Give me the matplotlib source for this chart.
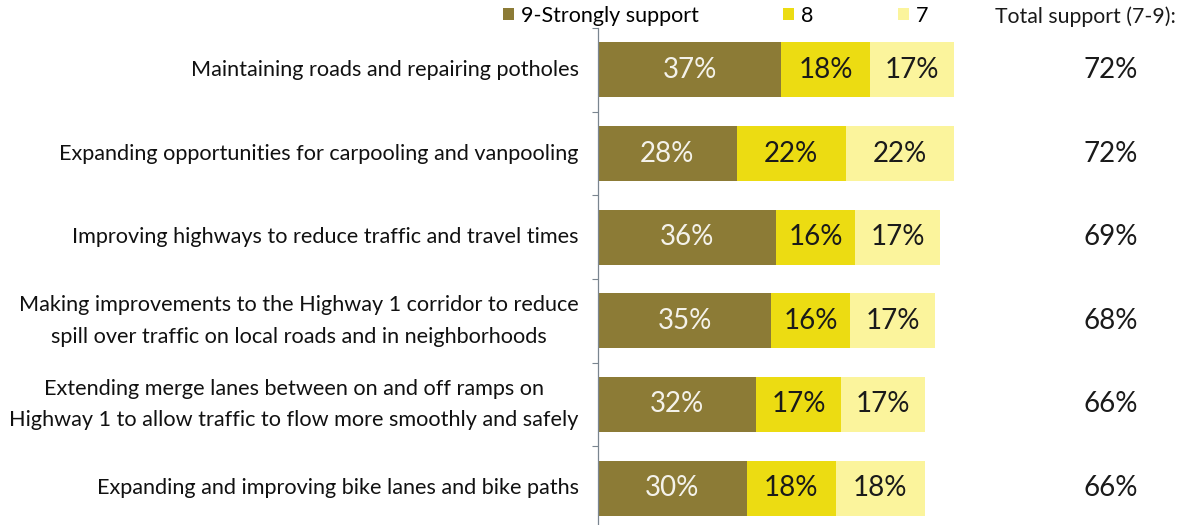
import matplotlib.pyplot as plt
import numpy as np
from matplotlib.patches import Patch
from matplotlib.transforms import blended_transform_factory

plt.rcParams['font.family'] = ['Lato', 'DejaVu Sans']

categories = [
    "Maintaining roads and repairing potholes",
    "Expanding opportunities for carpooling and vanpooling",
    "Improving highways to reduce traffic and travel times",
    "Making improvements to the Highway 1 corridor to reduce\nspill over traffic on local roads and in neighborhoods",
    "Extending merge lanes between on and off ramps on\nHighway 1 to allow traffic to flow more smoothly and safely",
    "Expanding and improving bike lanes and bike paths",
]
strongly = [37, 28, 36, 35, 32, 30]
eight = [18, 22, 16, 16, 17, 18]
seven = [17, 22, 17, 17, 17, 18]
totals = [72, 72, 69, 68, 66, 66]

series_names = ["9-Strongly support", "8", "7"]
colors = ["#8c7b36", "#ecdc12", "#fbf49c"]
text_colors = ["#f4f2ea", "#1a1a1a", "#1a1a1a"]

W, H = 1188, 525
fig = plt.figure(figsize=(W / 100, H / 100), dpi=100)
ax = fig.add_axes([598 / W, -5 / H, 396 / W, 502 / H])

y = np.arange(len(categories))
left = np.zeros(len(categories))
for vals, col, tcol in zip([strongly, eight, seven], colors, text_colors):
    vals = np.array(vals)
    ax.barh(y, vals, left=left, height=0.66, color=col, edgecolor='none')
    for yi, l, v in zip(y, left, vals):
        ax.text(l + v / 2, yi, f"{v}%", ha='center', va='center',
                fontsize=20, color=tcol)
    left = left + vals

ax.set_xlim(0, 80)
ax.set_ylim(len(categories) - 0.5, -0.5)

# category labels on major ticks, boundary marks on minor ticks
ax.set_yticks(y)
ax.set_yticklabels(categories, fontsize=15.6, color='#111111')
for lab in ax.get_yticklabels():
    lab.set_multialignment('center')
    lab.set_linespacing(1.72)
    lab.set_verticalalignment('center')
ax.tick_params(axis='y', which='major', length=0, pad=14)
ax.set_yticks(np.arange(-0.5, len(categories) + 0.5, 1), minor=True)
ax.tick_params(axis='y', which='minor', length=4, width=0.8, color='#7a8590', direction='out')
ax.set_xticks([])

for s in ['top', 'right', 'bottom']:
    ax.spines[s].set_visible(False)
ax.spines['left'].set_color('#7a8590')
ax.spines['left'].set_linewidth(0.9)

# total support column
tr = blended_transform_factory(fig.transFigure, ax.transData)
for yi, t in zip(y, totals):
    ax.text(1111 / W, yi, f"{t}%", transform=tr, ha='center', va='center',
            fontsize=20, color='#1a1a1a', clip_on=False)
fig.text(995 / W, 1 - 17 / H, "Total support (7-9):", ha='left', va='center',
         fontsize=15.3, color='#1a1a1a')

handles = [Patch(facecolor=c, edgecolor='none') for c in colors]
fig.legend(handles, series_names, loc='center left', ncol=3,
           bbox_to_anchor=(503 / W, 1 - 16 / H), frameon=False,
           fontsize=15.5, handlelength=0.5, handleheight=0.5,
           handletextpad=0.35, columnspacing=3.9, borderpad=0, borderaxespad=0)

fig.savefig('out.png', dpi=100)
